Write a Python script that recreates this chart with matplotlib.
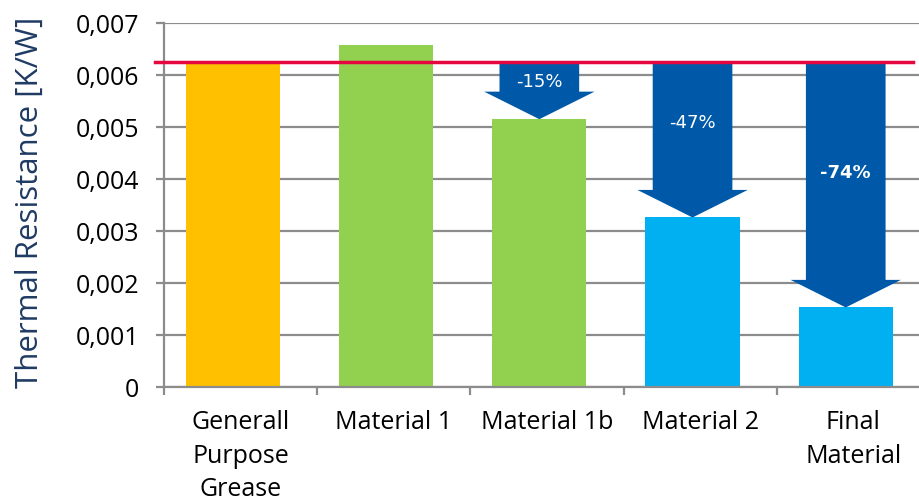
import matplotlib.pyplot as plt
from matplotlib.ticker import FuncFormatter, FixedLocator

# Datos
categories = ['Generall\nPurpose\nGrease', 'Material 1', 'Material 1b', 'Material 2', 'Final\nMaterial']
resistance = [0.00625, 0.00657, 0.00515, 0.00326, 0.00153]
bar_colors = ['#FFC000', '#92D050', '#92D050', '#00B0F0', '#00B0F0']
reference = 0.006256
arrow_idx = [2, 3, 4]
arrow_labels = ['-15%', '-47%', '-74%']
arrow_label_y = [0.00588, 0.00510, 0.00414]
arrow_bold = [False, False, True]

W, H = 919, 502
fig = plt.figure(figsize=(W / 100, H / 100), dpi=100)
ax = fig.add_axes([164 / W, 1 - 388 / H, 766 / W, 364 / H])

gray = '#8C8C8C'
offset = -0.05
xs = [i + offset for i in range(len(categories))]

ax.bar(xs, resistance, width=0.615, color=bar_colors, zorder=2)

# flechas de reducción
for k, i in enumerate(arrow_idx):
    x = xs[i]
    ax.arrow(x, reference, 0, resistance[i] - reference, width=0.52,
             head_width=0.72, head_length=0.00053, length_includes_head=True,
             color='#0059A8', lw=0, zorder=3)
    ax.text(x, arrow_label_y[k], arrow_labels[k], color='white', ha='center', va='center',
            fontsize=13, fontfamily='DejaVu Sans',
            fontweight='bold' if arrow_bold[k] else 'normal', zorder=4)

# línea de referencia
ax.axhline(reference, xmin=-0.012, xmax=0.978, color='#E4083F', lw=2.5, clip_on=False, zorder=5)

ax.set_xlim(-0.5, 4.5)
ax.set_ylim(0, 0.007)
ax.set_yticks([i * 0.001 for i in range(8)])
ax.yaxis.set_major_formatter(FuncFormatter(lambda v, p: '0' if v == 0 else f'{v:.3f}'.replace('.', ',')))
ax.grid(axis='y', color=gray, lw=1.6, zorder=1)
ax.set_axisbelow(True)

ax.xaxis.set_major_locator(FixedLocator([-0.5, 0.5, 1.5, 2.5, 3.5, 4.5]))
ax.xaxis.set_major_formatter(FuncFormatter(lambda v, p: ''))
ax.xaxis.set_minor_locator(FixedLocator(range(len(categories))))
ax.set_xticklabels(categories, minor=True, fontfamily='Open Sans', fontsize=18, linespacing=1.45)
ax.tick_params(axis='x', which='minor', length=0, pad=16)
ax.tick_params(axis='x', which='major', length=6, width=1.6, color=gray, direction='out')
ax.tick_params(axis='y', length=6, width=1.6, color=gray, pad=12, labelsize=18)
for lab in ax.get_yticklabels():
    lab.set_fontfamily('Open Sans')

for s in ['top', 'right']:
    ax.spines[s].set_visible(False)
for s in ['left', 'bottom']:
    ax.spines[s].set_color(gray)
    ax.spines[s].set_linewidth(1.6)

ax.set_ylabel('Thermal Resistance [K/W]', fontfamily='Open Sans', fontsize=22.5, color='#1F3B63')
ax.yaxis.set_label_coords(-0.155, 0.51)

fig.savefig('out.png', dpi=100)
